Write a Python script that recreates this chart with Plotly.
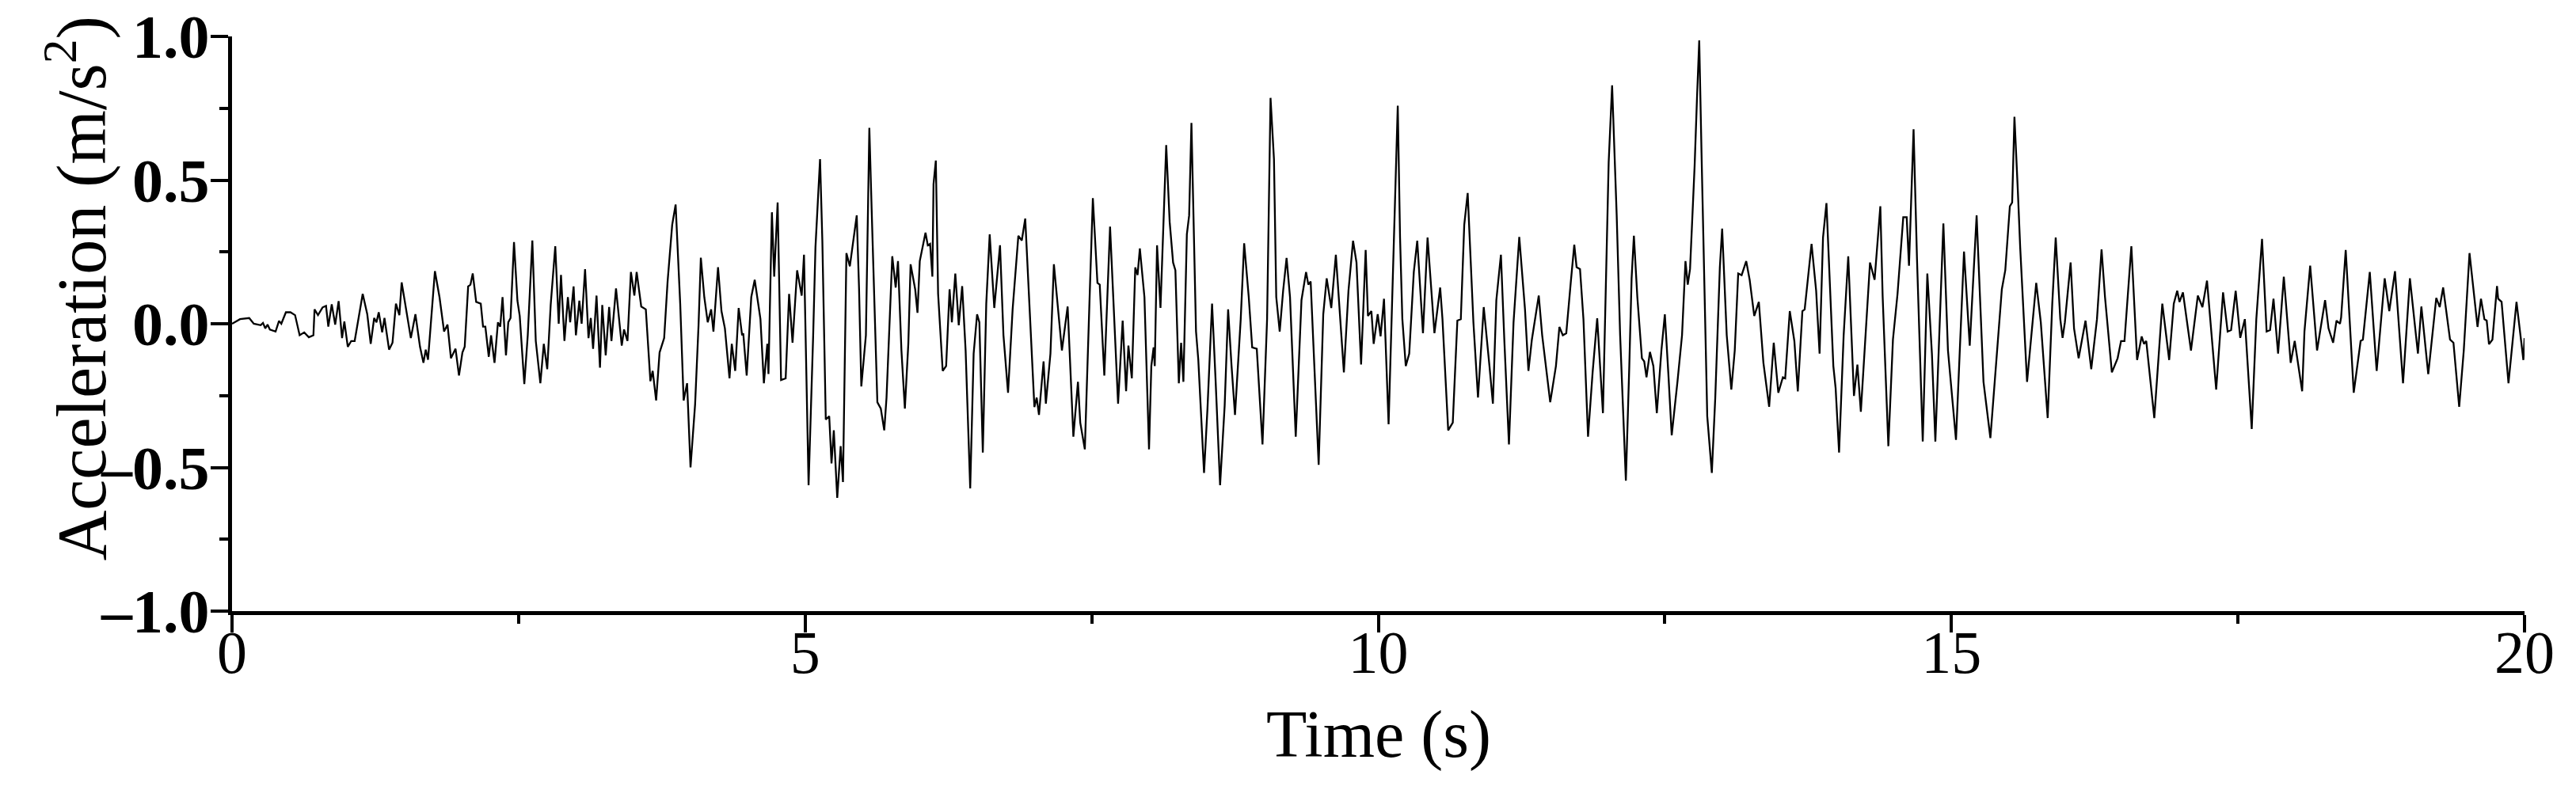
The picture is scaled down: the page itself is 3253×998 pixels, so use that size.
import plotly.graph_objects as go

# Acceleration time history (time s, acceleration m/s^2)
seg_00_02 = [(0.00,0.00),(0.07,0.016),(0.15,0.02),(0.19,0.00),(0.25,-0.005),(0.27,0.003),(0.29,-0.016),(0.31,-0.003),(0.33,-0.02),(0.38,-0.027),(0.41,0.01),(0.43,0.00),(0.47,0.04),(0.51,0.04),(0.55,0.03),(0.59,-0.04),(0.63,-0.03),(0.67,-0.047),(0.71,-0.04),(0.72,0.05),(0.75,0.03),(0.79,0.057),(0.82,0.062),(0.84,-0.01),(0.87,0.068),(0.90,-0.003),(0.93,0.079),(0.96,-0.05),(0.98,0.008),(1.01,-0.08),(1.04,-0.06),(1.07,-0.06),(1.14,0.104),(1.18,0.033),(1.21,-0.07),(1.24,0.02),(1.26,0.005),(1.28,0.04),(1.31,-0.03),(1.33,0.02),(1.37,-0.09),(1.40,-0.066),(1.43,0.07),(1.46,0.03),(1.48,0.144),(1.56,-0.05),(1.60,0.033),(1.64,-0.08),(1.67,-0.136),(1.69,-0.09),(1.71,-0.125),(1.77,0.183),(1.81,0.093),(1.85,-0.027),(1.88,-0.003),(1.91,-0.12)]
seg_02_04 = [(1.95,-0.087),(1.98,-0.18),(2.01,-0.10),(2.03,-0.08),(2.06,0.13),(2.08,0.136),(2.10,0.175),(2.13,0.076),(2.17,0.07),(2.19,-0.01),(2.21,-0.01),(2.24,-0.115),(2.26,-0.04),(2.29,-0.136),(2.32,0.005),(2.34,-0.01),(2.36,0.093),(2.39,-0.11),(2.41,0.005),(2.43,0.02),(2.46,0.284),(2.49,0.08),(2.51,0.027),(2.55,-0.21),(2.58,-0.04),(2.62,0.29),(2.65,-0.06),(2.69,-0.207),(2.72,-0.07),(2.75,-0.158),(2.78,0.065),(2.82,0.27),(2.85,0.0),(2.87,0.17),(2.90,-0.06),(2.93,0.093),(2.95,0.005),(2.98,0.13),(3.00,-0.04),(3.03,0.08),(3.05,0.0),(3.08,0.19),(3.11,-0.05),(3.13,0.02),(3.15,-0.087),(3.18,0.098),(3.21,-0.153),(3.23,0.065),(3.26,-0.11),(3.29,0.058),(3.31,-0.06),(3.35,0.123),(3.40,-0.076),(3.42,-0.02),(3.45,-0.06),(3.48,0.18),(3.51,0.098),(3.53,0.18),(3.57,0.06),(3.61,0.05),(3.65,-0.2),(3.67,-0.164),(3.70,-0.267),(3.73,-0.10),(3.77,-0.05),(3.80,0.147),(3.84,0.344),(3.87,0.415),(3.91,0.07),(3.94,-0.267)]
seg_04_06 = [(3.97,-0.207),(4.00,-0.50),(4.04,-0.28),(4.07,-0.005),(4.09,0.23),(4.12,0.093),(4.15,0.005),(4.18,0.05),(4.20,-0.027),(4.24,0.197),(4.27,0.044),(4.30,-0.016),(4.34,-0.19),(4.36,-0.07),(4.39,-0.164),(4.42,0.055),(4.45,-0.04),(4.46,-0.033),(4.49,-0.18),(4.53,0.093),(4.56,0.153),(4.61,0.016),(4.64,-0.207),(4.67,-0.07),(4.68,-0.175),(4.71,0.388),(4.73,0.164),(4.76,0.422),(4.79,-0.196),(4.83,-0.19),(4.86,0.104),(4.89,-0.066),(4.93,0.186),(4.97,0.098),(4.99,0.24),(5.03,-0.562),(5.07,-0.04),(5.09,0.267),(5.13,0.573),(5.15,0.29),(5.18,-0.333),(5.21,-0.322),(5.23,-0.486),(5.25,-0.371),(5.28,-0.606),(5.31,-0.426),(5.33,-0.551),(5.36,0.246),(5.39,0.20),(5.45,0.377),(5.47,0.126),(5.49,-0.218),(5.53,-0.04),(5.56,0.682),(5.58,0.40),(5.61,-0.04),(5.63,-0.273),(5.66,-0.295),(5.69,-0.371),(5.71,-0.257),(5.76,0.235),(5.79,0.126),(5.81,0.218),(5.84,-0.093),(5.87,-0.295),(5.90,-0.07),(5.92,0.207)]
seg_06_08 = [(5.96,0.12),(5.98,0.038),(6.00,0.218),(6.05,0.317),(6.07,0.273),(6.09,0.278),(6.11,0.164),(6.12,0.486),(6.14,0.568),(6.16,0.104),(6.20,-0.164),(6.23,-0.147),(6.26,0.12),(6.28,0.005),(6.31,0.175),(6.34,-0.005),(6.37,0.131),(6.40,-0.093),(6.44,-0.573),(6.47,-0.104),(6.50,0.033),(6.52,0.005),(6.55,-0.448),(6.58,0.07),(6.61,0.311),(6.65,0.055),(6.70,0.273),(6.73,-0.04),(6.77,-0.24),(6.81,0.05),(6.86,0.306),(6.89,0.29),(6.92,0.366),(6.97,-0.022),(7.00,-0.29),(7.02,-0.257),(7.04,-0.317),(7.08,-0.131),(7.10,-0.278),(7.14,-0.104),(7.17,0.207),(7.24,-0.093),(7.29,0.06),(7.34,-0.393),(7.38,-0.202),(7.40,-0.344),(7.44,-0.437),(7.48,0.07),(7.51,0.437),(7.55,0.142),(7.57,0.136),(7.61,-0.18),(7.66,0.338),(7.73,-0.278),(7.77,0.011),(7.80,-0.235),(7.82,-0.076),(7.85,-0.19),(7.88,0.196),(7.90,0.17),(7.92,0.262)]
seg_08_10 = [(7.96,0.093),(8.00,-0.437),(8.02,-0.147),(8.04,-0.082),(8.05,-0.147),(8.07,0.273),(8.10,0.055),(8.12,0.29),(8.15,0.622),(8.18,0.355),(8.21,0.213),(8.23,0.186),(8.26,-0.207),(8.28,-0.066),(8.30,-0.202),(8.33,0.311),(8.35,0.377),(8.37,0.699),(8.39,0.333),(8.41,-0.027),(8.43,-0.126),(8.48,-0.519),(8.51,-0.295),(8.55,0.07),(8.58,-0.19),(8.62,-0.562),(8.66,-0.284),(8.69,0.05),(8.72,-0.147),(8.75,-0.317),(8.80,0.016),(8.83,0.28),(8.87,0.093),(8.90,-0.082),(8.94,-0.087),(8.99,-0.42),(9.03,0.016),(9.06,0.786),(9.09,0.573),(9.11,0.093),(9.14,-0.027),(9.17,0.115),(9.20,0.229),(9.23,0.093),(9.28,-0.393),(9.33,0.082),(9.37,0.18),(9.39,0.136),(9.41,0.147),(9.45,-0.246),(9.48,-0.491),(9.52,0.033),(9.55,0.158),(9.59,0.055),(9.63,0.24),(9.70,-0.169),(9.74,0.115),(9.78,0.289),(9.81,0.213),(9.85,-0.142),(9.89,0.257),(9.91,0.027),(9.94,0.044)]
seg_10_12 = [(9.96,-0.07),(9.995,0.033),(10.02,-0.044),(10.05,0.087),(10.09,-0.35),(10.12,0.093),(10.14,0.344),(10.17,0.759),(10.19,0.30),(10.21,0.016),(10.24,-0.147),(10.27,-0.104),(10.31,0.18),(10.34,0.289),(10.39,-0.033),(10.43,0.30),(10.49,-0.033),(10.51,0.027),(10.54,0.126),(10.56,0.016),(10.61,-0.371),(10.65,-0.344),(10.69,0.011),(10.72,0.016),(10.75,0.344),(10.78,0.455),(10.83,0.005),(10.87,-0.257),(10.92,0.058),(10.97,-0.147),(11.00,-0.278),(11.03,0.082),(11.07,0.24),(11.10,-0.06),(11.14,-0.42),(11.18,0.005),(11.23,0.302),(11.28,0.05),(11.31,-0.164),(11.34,-0.055),(11.40,0.098),(11.43,-0.04),(11.50,-0.273),(11.55,-0.147),(11.58,-0.011),(11.61,-0.04),(11.64,-0.033),(11.68,0.147),(11.71,0.275),(11.73,0.197),(11.76,0.19),(11.79,0.016),(11.83,-0.393),(11.87,-0.169),(11.91,0.019)]
seg_12_14 = [(11.96,-0.311),(11.99,0.18),(12.01,0.562),(12.04,0.83),(12.06,0.606),(12.08,0.377),(12.11,-0.04),(12.16,-0.546),(12.19,-0.147),(12.21,0.158),(12.23,0.306),(12.26,0.093),(12.30,-0.12),(12.32,-0.131),(12.34,-0.186),(12.37,-0.098),(12.40,-0.147),(12.43,-0.311),(12.47,-0.093),(12.50,0.033),(12.53,-0.169),(12.56,-0.388),(12.61,-0.202),(12.65,-0.04),(12.68,0.218),(12.70,0.136),(12.72,0.191),(12.76,0.551),(12.78,0.78),(12.80,0.986),(12.82,0.595),(12.85,0.016),(12.87,-0.322),(12.91,-0.519),(12.94,-0.257),(12.98,0.197),(13.00,0.331),(13.04,-0.04),(13.08,-0.229),(13.11,-0.093),(13.14,0.175),(13.17,0.169),(13.21,0.218),(13.24,0.153),(13.28,0.027),(13.32,0.076),(13.36,-0.136),(13.41,-0.289),(13.45,-0.066),(13.49,-0.24),(13.53,-0.186),(13.55,-0.19),(13.59,0.044),(13.63,-0.06),(13.66,-0.235),(13.70,0.044),(13.72,0.05),(13.78,0.278),(13.82,0.115),(13.85,-0.104),(13.88,0.30),(13.91,0.42),(13.94,0.147)]
seg_14_16 = [(13.97,-0.147),(13.99,-0.224),(14.02,-0.448),(14.06,-0.04),(14.10,0.235),(14.15,-0.251),(14.18,-0.142),(14.21,-0.306),(14.25,-0.04),(14.29,0.213),(14.33,0.153),(14.38,0.409),(14.40,0.098),(14.45,-0.426),(14.49,-0.055),(14.53,0.104),(14.58,0.371),(14.61,0.371),(14.63,0.202),(14.67,0.677),(14.70,0.224),(14.75,-0.41),(14.79,0.175),(14.83,-0.104),(14.86,-0.41),(14.93,0.349),(14.97,-0.093),(15.04,-0.404),(15.11,0.251),(15.16,-0.076),(15.22,0.377),(15.28,-0.202),(15.34,-0.398),(15.44,0.12),(15.47,0.186),(15.51,0.409),(15.53,0.422),(15.55,0.72),(15.58,0.459),(15.60,0.267),(15.66,-0.202),(15.74,0.142),(15.78,0.005),(15.84,-0.328),(15.88,0.07),(15.91,0.30),(15.95,0.016)]
seg_16_18 = [(15.97,-0.049),(15.99,0.005),(16.04,0.213),(16.07,-0.016),(16.11,-0.12),(16.17,0.011),(16.22,-0.158),(16.27,0.016),(16.31,0.259),(16.34,0.093),(16.40,-0.169),(16.45,-0.12),(16.48,-0.06),(16.51,-0.06),(16.57,0.27),(16.62,-0.126),(16.66,-0.044),(16.68,-0.07),(16.70,-0.06),(16.77,-0.328),(16.84,0.07),(16.90,-0.126),(16.94,0.07),(16.97,0.115),(16.99,0.076),(17.02,0.109),(17.09,-0.093),(17.15,0.098),(17.19,0.058),(17.23,0.15),(17.31,-0.229),(17.37,0.109),(17.41,-0.027),(17.44,-0.022),(17.48,0.115),(17.52,-0.049),(17.56,0.016),(17.62,-0.366),(17.66,0.016),(17.71,0.295),(17.75,-0.027),(17.78,-0.022),(17.81,0.087),(17.85,-0.104),(17.90,0.164),(17.96,-0.136)]
seg_18_20 = [(17.995,-0.06),(18.06,-0.235),(18.08,-0.027),(18.13,0.202),(18.19,-0.093),(18.26,0.082),(18.29,-0.016),(18.33,-0.066),(18.36,0.011),(18.39,0.0),(18.40,0.022),(18.44,0.257),(18.51,-0.24),(18.57,-0.06),(18.59,-0.055),(18.65,0.18),(18.71,-0.164),(18.78,0.158),(18.82,0.044),(18.87,0.183),(18.94,-0.207),(19.00,0.158),(19.07,-0.104),(19.10,0.06),(19.16,-0.175),(19.23,0.09),(19.26,0.058),(19.29,0.126),(19.35,-0.055),(19.38,-0.066),(19.43,-0.289),(19.47,-0.093),(19.52,0.246),(19.59,-0.011),(19.62,0.087),(19.65,0.016),(19.67,0.011),(19.69,-0.071),(19.72,-0.055),(19.76,0.131),(19.77,0.087),(19.80,0.076),(19.86,-0.207),(19.93,0.076),(19.99,-0.126),(20.0,-0.05)]

segments = [seg_00_02, seg_02_04, seg_04_06, seg_06_08, seg_08_10,
            seg_10_12, seg_12_14, seg_14_16, seg_16_18, seg_18_20]

x_ticks = [0, 5, 10, 15, 20]
x_ticktext = ["0", "5", "10", "15", "20"]
x_minor = [2.5, 7.5, 12.5, 17.5]
y_ticks = [-1.0, -0.5, 0.0, 0.5, 1.0]
y_ticktext = ["\u20131.0", "\u20130.5", "0.0", "0.5", "1.0"]
y_minor = [-0.75, -0.25, 0.25, 0.75]

time = [p[0] for s in segments for p in s]
acc = [p[1] for s in segments for p in s]

SERIF = "Liberation Serif, Times New Roman, serif"

fig = go.Figure()
fig.add_trace(go.Scatter(x=time, y=acc, mode="lines",
                         line=dict(color="black", width=2.3),
                         showlegend=False, hoverinfo="skip"))

axis_common = dict(showline=True, linecolor="black", linewidth=5,
                   ticks="outside", ticklen=22, tickwidth=4, tickcolor="black",
                   showgrid=False, zeroline=False, automargin=False,
                   ticklabeloverflow="allow")

# the page body adds an 8 px margin on each side, so the figure is 16 px smaller
fig.update_layout(
    width=3237, height=982,
    margin=dict(l=285, r=57, t=38, b=218),
    paper_bgcolor="white", plot_bgcolor="white",
    xaxis=dict(range=[0, 20], tickmode="array", tickvals=x_ticks, ticktext=x_ticktext,
               tickfont=dict(family=SERIF, size=76, color="black"),
               ticklabelstandoff=-40,
               minor=dict(tickmode="array", tickvals=x_minor, ticks="outside",
                          ticklen=11, tickwidth=4, tickcolor="black", showgrid=False),
               **axis_common),
    yaxis=dict(range=[-1, 1], tickmode="array", tickvals=y_ticks, ticktext=y_ticktext,
               tickfont=dict(family=SERIF, size=78, color="black", weight="bold"),
               ticklabelstandoff=-14,
               minor=dict(tickmode="array", tickvals=y_minor, ticks="outside",
                          ticklen=11, tickwidth=4, tickcolor="black", showgrid=False),
               **axis_common),
    annotations=[
        dict(text="Time (s)", xref="paper", yref="paper", x=0.5, y=-0.215,
             xanchor="center", yanchor="middle", showarrow=False,
             font=dict(family=SERIF, size=84, color="black")),
        dict(text="Acceleration (m/s<sup>2</sup>)", xref="paper", yref="paper",
             x=-0.0676, y=0.562, xanchor="center", yanchor="middle", textangle=-90,
             showarrow=False, font=dict(family=SERIF, size=88, color="black")),
    ],
)

fig.write_html("out.html")
